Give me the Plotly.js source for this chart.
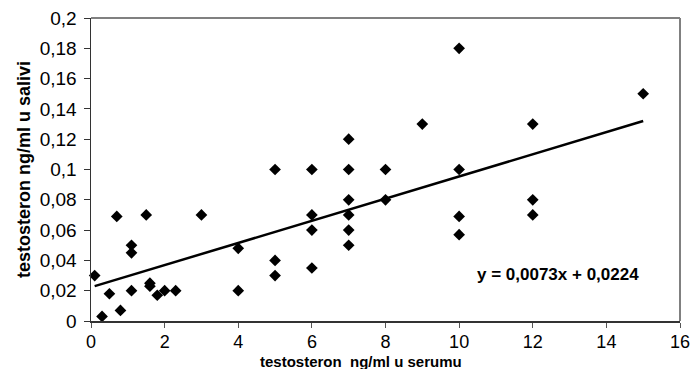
<!DOCTYPE html>
<html>
<head>
<meta charset="utf-8">
<script src="https://cdn.plot.ly/plotly-3.0.1.min.js"></script>
<style>html,body{margin:0;padding:0;background:#fff;}#chart{width:692px;height:369px;}</style>
</head>
<body>
<div id="chart"></div>
<script>
// serum testosterone (ng/ml)
var serum = [0.1, 0.3, 0.5, 0.7, 0.8, 1.1, 1.1, 1.1, 1.5, 1.6, 1.6, 1.8, 2.0, 2.3, 3.0, 4.0, 4.0,
             5, 5, 5, 6, 6, 6, 6, 7, 7, 7, 7, 7, 7, 8, 8, 9, 10, 10, 10, 10, 12, 12, 12, 15];
// saliva testosterone (ng/ml)
var saliva = [0.030, 0.003, 0.018, 0.069, 0.007, 0.050, 0.045, 0.020, 0.070, 0.025, 0.023, 0.017, 0.020, 0.020, 0.070, 0.048, 0.020,
              0.100, 0.040, 0.030, 0.100, 0.070, 0.060, 0.035, 0.120, 0.100, 0.080, 0.070, 0.060, 0.050, 0.100, 0.080, 0.130, 0.180, 0.100, 0.069, 0.057, 0.130, 0.080, 0.070, 0.150];
// linear trend line endpoints (y = 0,0073x + 0,0224)
var trendX = [0.1, 15];
var trendY = [0.023, 0.132];
var trendLabel = "y = 0,0073x + 0,0224";
var xTitle = "testosteron  ng/ml u serumu";
var yTitle = "testosteron ng/ml u salivi";

var traces = [
  {x: serum, y: saliva, type: 'scatter', mode: 'markers',
   marker: {symbol: 'diamond', size: 9, color: '#000'}, cliponaxis: false, hoverinfo: 'x+y'},
  {x: trendX, y: trendY, type: 'scatter', mode: 'lines',
   line: {color: '#000', width: 2.5}, hoverinfo: 'skip'}
];

var layout = {
  width: 692, height: 369,
  margin: {l: 91, r: 12, t: 18, b: 48},
  paper_bgcolor: '#fff', plot_bgcolor: '#fff',
  showlegend: false,
  separators: ', ',
  font: {family: 'Liberation Sans, Arial, sans-serif', color: '#000'},
  xaxis: {
    range: [0, 16], dtick: 2, tick0: 0, showgrid: false, zeroline: false,
    ticks: 'outside', ticklen: 5, tickcolor: '#555', tickwidth: 1,
    showline: true, linecolor: '#333', linewidth: 1.5, mirror: false,
    tickfont: {size: 18, color: '#000'}, ticklabelstandoff: -1,
    title: {text: ''}
  },
  yaxis: {
    range: [0, 0.2], dtick: 0.02, tick0: 0, showgrid: false, zeroline: false,
    ticks: 'outside', ticklen: 6, tickcolor: '#333', tickwidth: 1,
    showline: true, linecolor: '#333', linewidth: 1.5,
    tickfont: {size: 19, color: '#000'}, ticklabelstandoff: 3,
    title: {text: '<b>' + yTitle + '</b>', font: {size: 18, color: '#000'}, standoff: 4}
  },
  shapes: [
    {type: 'line', xref: 'paper', yref: 'paper', x0: 0, x1: 1, y0: 1, y1: 1, line: {color: '#808080', width: 2}},
    {type: 'line', xref: 'paper', yref: 'paper', x0: 1, x1: 1, y0: 0, y1: 1, line: {color: '#808080', width: 2}}
  ],
  annotations: [
    {xref: 'x', yref: 'y', x: 12.69, y: 0.0304, text: '<b>' + trendLabel + '</b>', showarrow: false,
     font: {size: 17, color: '#000'}},
    {xref: 'paper', yref: 'paper', x: 0.458, y: 0, yshift: -40, yanchor: 'middle', text: '<b>' + xTitle + '</b>', showarrow: false,
     font: {size: 15, color: '#000'}}
  ]
};

Plotly.newPlot('chart', traces, layout, {displayModeBar: false, staticPlot: true});
</script>
</body>
</html>
